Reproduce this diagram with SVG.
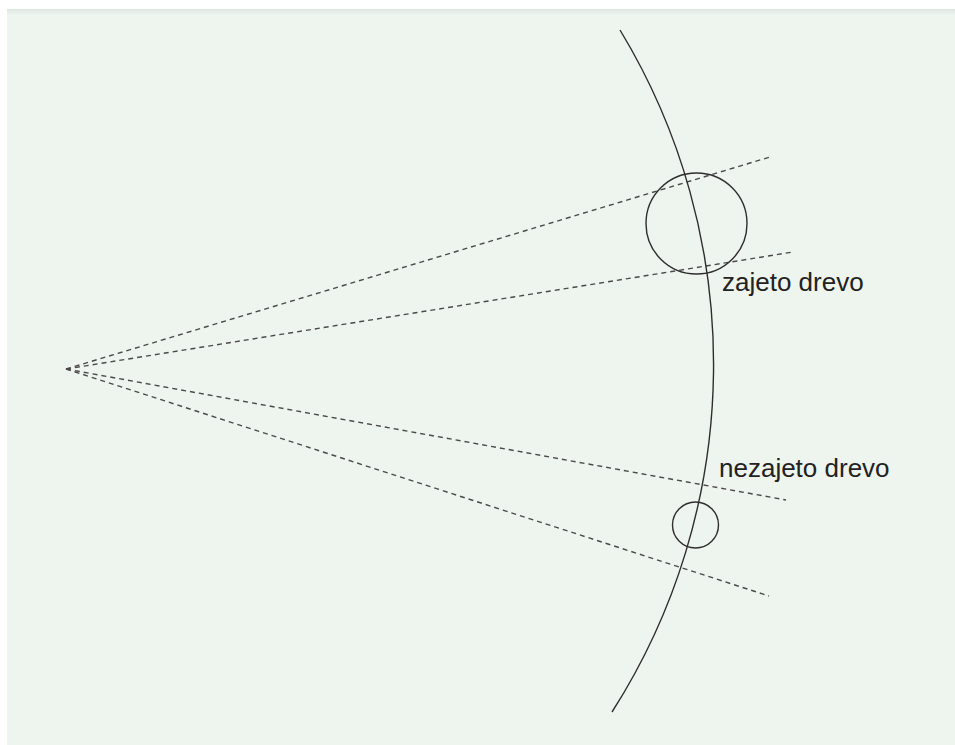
<svg xmlns="http://www.w3.org/2000/svg" width="955" height="745" viewBox="0 0 955 745">
  <style>
    .ray { fill: none; stroke: #4a4a4a; stroke-width: 1.4; stroke-dasharray: 5 4; }
    .solid { fill: none; stroke: #2e2e2e; stroke-width: 1.4; }
    .lbl { font-family: "Liberation Sans", Arial, sans-serif; font-size: 26px; fill: #222; }
  </style>
  <defs>
    <linearGradient id="topShade" x1="0" y1="0" x2="0" y2="1">
      <stop offset="0" stop-color="#dfe5df"/>
      <stop offset="1" stop-color="#eef4ee"/>
    </linearGradient>
  </defs>
  <rect x="0" y="0" width="955" height="745" fill="#ffffff"/>
  <rect x="7" y="9" width="948" height="736" fill="#eef4ee"/>
  <rect x="7" y="9" width="948" height="6" fill="url(#topShade)"/>

  <g id="connectors">
    <line class="ray" x1="66" y1="369" x2="770" y2="157"/>
    <line class="ray" x1="66" y1="369" x2="793" y2="252"/>
    <line class="ray" x1="66" y1="369" x2="786" y2="500"/>
    <line class="ray" x1="66" y1="369" x2="769" y2="596"/>
  </g>

  <g id="horizon">
    <path class="solid" d="M 620 30 A 645 645 0 0 1 612 712"/>
  </g>

  <g id="tree-occluded">
    <circle class="solid" cx="696.5" cy="223.5" r="50.5"/>
    <text class="lbl" x="722" y="291">zajeto drevo</text>
  </g>

  <g id="tree-visible">
    <circle class="solid" cx="695.5" cy="525" r="23"/>
    <text class="lbl" x="719" y="477">nezajeto drevo</text>
  </g>
</svg>
